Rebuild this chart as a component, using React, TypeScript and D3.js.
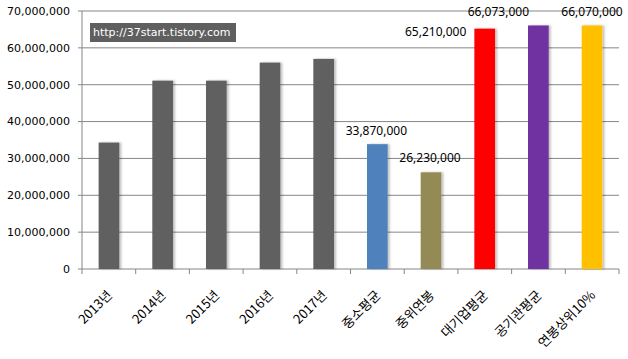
import React from "react";
import * as d3 from "d3";

const categories = ["2013년", "2014년", "2015년", "2016년", "2017년", "중소평균", "중위연봉", "대기업평균", "공기관평균", "연봉상위10%"];
const values = [34300000, 51100000, 51100000, 56000000, 57000000, 33870000, 26230000, 65210000, 66073000, 66070000];
const colors = ["#606060", "#606060", "#606060", "#606060", "#606060", "#4F81BD", "#948A54", "#FF0000", "#7030A0", "#FFC000"];
const labeled = [false, false, false, false, false, true, true, true, true, true];
const labelDx = [0, 0, 0, 0, 0, -1, -1, -49, -40, 0];
const labelDy = [0, 0, 0, 0, 0, -9, -10, 7, -9, -9];
const yTicks = [0, 10000000, 20000000, 30000000, 40000000, 50000000, 60000000, 70000000];
const watermark = "http://37start.tistory.com";

const W = 628, H = 359;
const left = 82, right = 619, top = 11, bottom = 269;

export default function App() {
  const x = d3.scaleBand<string>().domain(categories).range([left, right]).paddingInner(0.615).paddingOuter(0.31);
  const xb = d3.scaleBand<string>().domain(categories).range([left, right]);
  const y = d3.scaleLinear().domain([0, 70000000]).range([bottom, top]);
  const fmt = d3.format(",");
  return (
    <svg width={W} height={H} style={{ position: "absolute", left: 0, top: 0, background: "#fff" }}>
      <defs>
        <filter id="sh" x="-30%" y="-5%" width="160%" height="110%">
          <feDropShadow dx="2" dy="0" stdDeviation="1.2" floodColor="#000" floodOpacity="0.25" />
        </filter>
      </defs>
      {yTicks.map((t) => (
        <g key={t}>
          {t > 0 && <line x1={left} x2={right} y1={y(t)} y2={y(t)} stroke="#868686" strokeWidth={1} />}
          <line x1={left - 4} x2={left} y1={y(t)} y2={y(t)} stroke="#868686" />
          <text x={70} y={y(t)} dy="0.35em" textAnchor="end" fontFamily="DejaVu Sans" fontSize={11} fill="#000">
            {fmt(t)}
          </text>
        </g>
      ))}
      <line x1={left} x2={left} y1={top} y2={bottom} stroke="#868686" />
      <line x1={left} x2={right} y1={bottom} y2={bottom} stroke="#868686" />
      {categories.map((c, i) => (
        <line key={"t" + i} x1={xb(c)!} x2={xb(c)!} y1={bottom} y2={bottom + 5} stroke="#868686" />
      ))}
      <line x1={right} x2={right} y1={bottom} y2={bottom + 5} stroke="#868686" />
      <rect x={90} y={23} width={146} height={19} fill="#5f5f5f" />
      <text x={93} y={32.5} dy="0.35em" fontFamily="DejaVu Sans" fontSize={11} fill="#fff">{watermark}</text>
      {categories.map((c, i) => (
        <rect key={c} x={x(c)!} y={y(values[i])} width={x.bandwidth()} height={bottom - y(values[i])} fill={colors[i]} filter="url(#sh)" />
      ))}
      {categories.map((c, i) =>
        labeled[i] ? (
          <text key={"l" + i} x={x(c)! + x.bandwidth() / 2 + labelDx[i]} y={y(values[i]) + labelDy[i]} textAnchor="middle" fontFamily="Noto Sans" fontSize={12} fill="#000">
            {fmt(values[i])}
          </text>
        ) : null
      )}
      {categories.map((c, i) => {
        const cx = xb(c)! + xb.bandwidth() / 2 + 4;
        const cy = bottom + 27;
        return (
          <text key={"x" + i} transform={`translate(${cx},${cy}) rotate(-45)`} textAnchor="end" fontFamily="Noto Sans CJK KR" fontSize={13} fill="#000">
            {c}
          </text>
        );
      })}
    </svg>
  );
}
